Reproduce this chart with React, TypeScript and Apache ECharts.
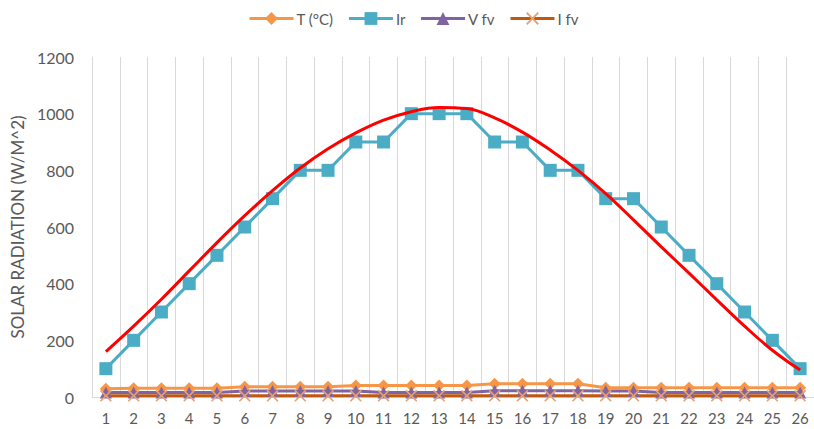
import React, { useEffect, useRef } from "react";
import * as echarts from "echarts";

const categories = Array.from({ length: 26 }, (_, i) => String(i + 1));
const tempValues = [29, 31, 31, 31, 31, 36, 36, 36, 36, 41, 41, 41, 41, 41, 47, 47, 47, 47, 33, 33, 33, 33, 33, 33, 33, 33];
const irValues = [100, 200, 300, 400, 500, 600, 700, 800, 800, 900, 900, 1000, 1000, 1000, 900, 900, 800, 800, 700, 700, 600, 500, 400, 300, 200, 100];
const vfvValues = [16, 16, 16, 16, 16, 21, 21, 21, 21, 21, 16, 16, 16, 16, 22, 22, 22, 22, 21, 21, 16, 16, 16, 16, 16, 16];
const ifvValues = [4, 4, 4, 4, 4, 4, 4, 4, 4, 4, 4, 4, 4, 4, 4, 4, 4, 4, 4, 4, 4, 4, 4, 4, 4, 4];
const trendValues = [160, 250, 345, 445, 545, 640, 728, 808, 876, 932, 977, 1007, 1022, 1018, 985, 935, 872, 800, 718, 625, 530, 437, 343, 250, 165, 95];
const yTicks = { min: 0, max: 1200, interval: 200 };

const FONT = "Lato, 'Open Sans', sans-serif";
const crossPath = "path://M0,1 L1,0 L5,4 L9,0 L10,1 L6,5 L10,9 L9,10 L5,6 L1,10 L0,9 L4,5 Z";

export default function App() {
  const ref = useRef<HTMLDivElement>(null);
  useEffect(() => {
    if (!ref.current) return;
    const chart = echarts.init(ref.current, null, { renderer: "svg" });
    chart.setOption({
      animation: false,
      backgroundColor: "#ffffff",
      textStyle: { fontFamily: FONT },
      legend: {
        top: 6,
        left: 243,
        itemWidth: 44,
        itemHeight: 16,
        itemGap: 14,
        lineStyle: { width: 3 },
        data: ["T (°C)", "Ir", "V fv", "I fv"],
        textStyle: { color: "#595959", fontSize: 15, fontFamily: FONT, padding: [0, 0, 0, -2] },
      },
      grid: { left: 92, right: -6, top: 57, bottom: 32, containLabel: false },
      xAxis: {
        type: "category",
        data: categories,
        boundaryGap: true,
        axisLine: { show: true, lineStyle: { color: "#D9D9D9", width: 1 } },
        axisTick: { show: false },
        axisLabel: { color: "#595959", fontSize: 15, margin: 13, fontFamily: FONT, interval: 0 },
        splitLine: { show: true, interval: 0, lineStyle: { color: "#D9D9D9", width: 1 } },
      },
      yAxis: {
        type: "value",
        min: yTicks.min,
        max: yTicks.max,
        interval: yTicks.interval,
        name: "SOLAR RADIATION (W/M^2)",
        nameLocation: "middle",
        nameGap: 66,
        nameTextStyle: { color: "#595959", fontSize: 17, fontFamily: FONT },
        axisLine: { show: true, lineStyle: { color: "#D9D9D9", width: 1 } },
        axisTick: { show: false },
        axisLabel: {
          color: "#595959",
          fontSize: 16,
          margin: 18,
          fontFamily: FONT,
          formatter: (v: number) => String(v),
        },
        splitLine: { show: false },
      },
      series: [
        {
          name: "T (°C)",
          type: "line",
          data: tempValues,
          symbol: "diamond",
          symbolSize: 12,
          color: "#F79646",
          lineStyle: { width: 3, color: "#F79646" },
          itemStyle: { color: "#F79646" },
        },
        {
          name: "Ir",
          type: "line",
          data: irValues,
          symbol: "rect",
          symbolSize: 13,
          color: "#4BACC6",
          lineStyle: { width: 3, color: "#4BACC6" },
          itemStyle: { color: "#4BACC6" },
        },
        {
          name: "V fv",
          type: "line",
          data: vfvValues,
          symbol: "triangle",
          symbolSize: 12,
          color: "#8064A2",
          lineStyle: { width: 3, color: "#8064A2" },
          itemStyle: { color: "#8064A2" },
        },
        {
          name: "I fv",
          type: "line",
          data: ifvValues,
          symbol: crossPath,
          symbolSize: 12,
          color: "#C0590F",
          lineStyle: { width: 3, color: "#C0590F" },
          itemStyle: { color: "#E8A070" },
        },
        {
          name: "trend",
          type: "line",
          data: trendValues,
          smooth: 0.4,
          showSymbol: false,
          symbol: "none",
          lineStyle: { width: 3, color: "#FF0000" },
          itemStyle: { color: "#FF0000" },
          z: 5,
        },
      ],
    });
    return () => chart.dispose();
  }, []);
  return (
    <div
      ref={ref}
      style={{ position: "fixed", left: 0, top: 0, width: 814, height: 429, background: "#fff" }}
    />
  );
}
